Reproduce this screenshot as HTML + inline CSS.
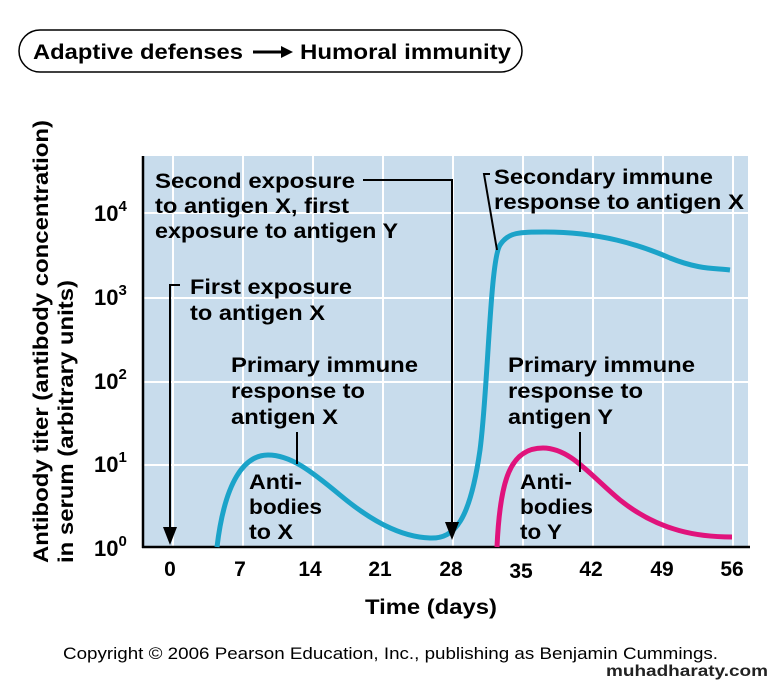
<!DOCTYPE html>
<html><head><meta charset="utf-8"><style>
html,body{margin:0;padding:0;background:#fff;}
svg{display:block;font-family:"Liberation Sans",Arial,sans-serif;font-weight:bold;}
</style></head><body>
<svg width="774" height="684" viewBox="0 0 774 684" xmlns="http://www.w3.org/2000/svg">
<rect x="19" y="30" width="503" height="42" rx="21" fill="#fff" stroke="#000" stroke-width="1.5"/>
<text x="33" y="59" font-size="21" fill="#000" textLength="210" lengthAdjust="spacingAndGlyphs">Adaptive defenses</text>
<line x1="253" y1="52" x2="283" y2="52" stroke="#000" stroke-width="3"/>
<polygon points="281,46 293,52 281,58" fill="#000"/>
<text x="300" y="59" font-size="21" fill="#000" textLength="211" lengthAdjust="spacingAndGlyphs">Humoral immunity</text>

<rect x="143" y="156" width="605" height="391" fill="#c8dcec"/>
<g stroke="#fff" stroke-width="2">
<line x1="143" y1="213" x2="748" y2="213"/><line x1="143" y1="298" x2="748" y2="298"/>
<line x1="143" y1="382" x2="748" y2="382"/><line x1="143" y1="465" x2="748" y2="465"/>
<line x1="173" y1="156" x2="173" y2="547"/><line x1="243" y1="156" x2="243" y2="547"/>
<line x1="313" y1="156" x2="313" y2="547"/><line x1="383" y1="156" x2="383" y2="547"/>
<line x1="453" y1="156" x2="453" y2="547"/><line x1="523" y1="156" x2="523" y2="547"/>
<line x1="593" y1="156" x2="593" y2="547"/><line x1="663" y1="156" x2="663" y2="547"/>
<line x1="733" y1="156" x2="733" y2="547"/>
</g>
<line x1="143" y1="156" x2="143" y2="548" stroke="#000" stroke-width="2.5"/>
<line x1="142" y1="547" x2="750" y2="547" stroke="#000" stroke-width="2.5"/>

<path d="M217,547 C225,480 245,455 268,455 C290,455 310,470 340,495 C370,520 400,537 430,538 C455,539 470,520 480,450 C488,390 490,260 500,245 C508,232 520,232 545,232 C600,232 640,245 670,258 C700,270 715,268 730,270" fill="none" stroke="#1ba3c9" stroke-width="5"/>
<path d="M497,547 C500,480 510,448 543,448 C570,448 590,475 620,500 C660,532 700,537 732,537" fill="none" stroke="#e0137c" stroke-width="5"/>

<g stroke="#000" stroke-width="2" fill="none">
<polyline points="363,180 452,180 452,525"/>
<polyline points="180,285 170,285 170,530"/>
<polyline points="490,174 484,174 497,250"/>
<line x1="297" y1="432" x2="297" y2="464"/>
<line x1="580" y1="432" x2="580" y2="472"/>
</g>
<polygon points="445,522 459,522 452,540" fill="#000"/>
<polygon points="163,527 177,527 170,545" fill="#000"/>

<g font-size="21" fill="#000">
<text x="155" y="188" textLength="200" lengthAdjust="spacingAndGlyphs">Second exposure</text>
<text x="155" y="213" textLength="194" lengthAdjust="spacingAndGlyphs">to antigen X, first</text>
<text x="155" y="238" textLength="243" lengthAdjust="spacingAndGlyphs">exposure to antigen Y</text>
<text x="190" y="294" textLength="162" lengthAdjust="spacingAndGlyphs">First exposure</text>
<text x="190" y="320" textLength="135" lengthAdjust="spacingAndGlyphs">to antigen X</text>
<text x="231" y="372" textLength="187" lengthAdjust="spacingAndGlyphs">Primary immune</text>
<text x="231" y="398" textLength="134" lengthAdjust="spacingAndGlyphs">response to</text>
<text x="231" y="424" textLength="107" lengthAdjust="spacingAndGlyphs">antigen X</text>
<text x="249" y="489" textLength="53" lengthAdjust="spacingAndGlyphs">Anti-</text>
<text x="249" y="514" textLength="73" lengthAdjust="spacingAndGlyphs">bodies</text>
<text x="249" y="539" textLength="44" lengthAdjust="spacingAndGlyphs">to X</text>
<text x="494" y="184" textLength="219" lengthAdjust="spacingAndGlyphs">Secondary immune</text>
<text x="494" y="209" textLength="250" lengthAdjust="spacingAndGlyphs">response to antigen X</text>
<text x="508" y="372" textLength="187" lengthAdjust="spacingAndGlyphs">Primary immune</text>
<text x="508" y="398" textLength="135" lengthAdjust="spacingAndGlyphs">response to</text>
<text x="508" y="424" textLength="105" lengthAdjust="spacingAndGlyphs">antigen Y</text>
<text x="520" y="489" textLength="52" lengthAdjust="spacingAndGlyphs">Anti-</text>
<text x="520" y="514" textLength="73" lengthAdjust="spacingAndGlyphs">bodies</text>
<text x="520" y="539" textLength="42" lengthAdjust="spacingAndGlyphs">to Y</text>
</g>

<g font-size="22" fill="#000">
<text x="94" y="221">10<tspan font-size="15" dy="-10">4</tspan></text>
<text x="94" y="305">10<tspan font-size="15" dy="-10">3</tspan></text>
<text x="94" y="389">10<tspan font-size="15" dy="-10">2</tspan></text>
<text x="94" y="472">10<tspan font-size="15" dy="-10">1</tspan></text>
<text x="94" y="556">10<tspan font-size="15" dy="-10">0</tspan></text>
</g>
<g font-size="21" fill="#000" text-anchor="middle">
<text x="170" y="576">0</text><text x="240" y="576">7</text><text x="310" y="576">14</text>
<text x="380" y="576">21</text><text x="451" y="576">28</text><text x="521" y="578">35</text>
<text x="591" y="576">42</text><text x="662" y="576">49</text><text x="732" y="576">56</text>
</g>
<text x="365" y="614" font-size="21" fill="#000" textLength="132" lengthAdjust="spacingAndGlyphs">Time (days)</text>
<g font-size="21" fill="#000">
<text transform="translate(48,563) rotate(-90)" textLength="443" lengthAdjust="spacingAndGlyphs">Antibody titer (antibody  concentration)</text>
<text transform="translate(73,563) rotate(-90)" textLength="283" lengthAdjust="spacingAndGlyphs">in serum (arbitrary units)</text>
</g>
<text x="63" y="659" font-size="17" font-weight="normal" fill="#000" textLength="655" lengthAdjust="spacingAndGlyphs">Copyright © 2006 Pearson Education, Inc., publishing as Benjamin Cummings.</text>
<text x="606" y="676" font-size="16" fill="#222" textLength="162" lengthAdjust="spacingAndGlyphs">muhadharaty.com</text>
</svg>
</body></html>
